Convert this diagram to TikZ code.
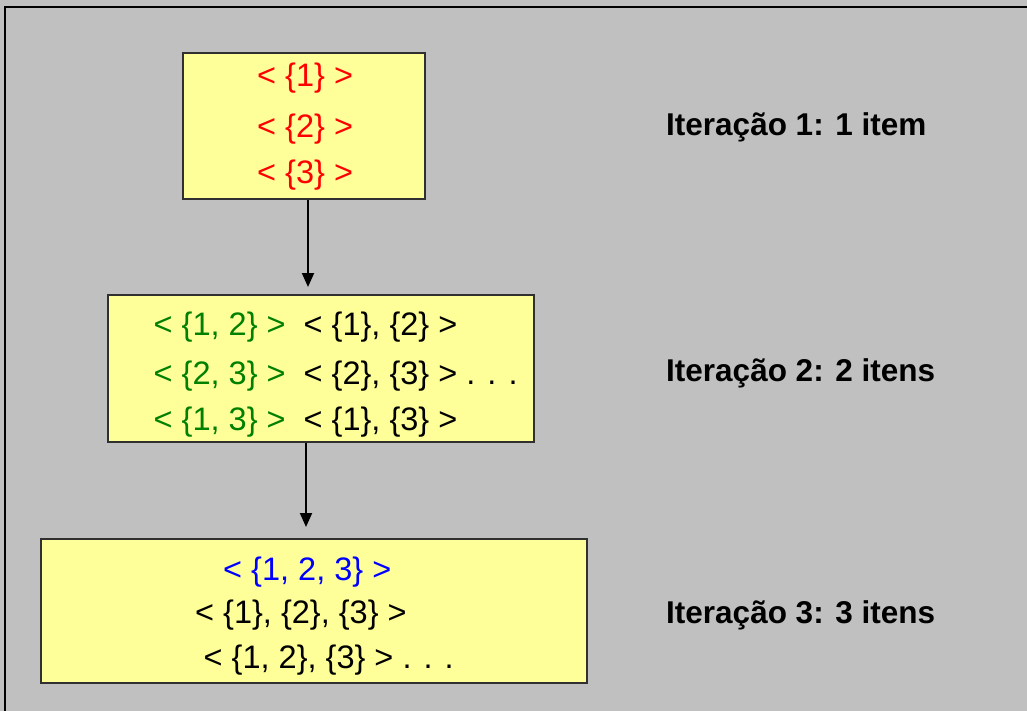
\documentclass[tikz,border=0pt]{standalone}
\usepackage{fontspec}
\setmainfont{Liberation Sans}
\usetikzlibrary{arrows.meta}
\definecolor{panelgray}{HTML}{C0C0C0}
\definecolor{boxyellow}{HTML}{FFFF99}
\definecolor{boxedge}{HTML}{303030}
\definecolor{setred}{HTML}{FF0000}
\definecolor{setgreen}{HTML}{008000}
\definecolor{setblue}{HTML}{0000FF}
\tikzset{
  itembox/.style={draw=boxedge, fill=boxyellow, line width=2pt, inner sep=0pt},
  seq/.style={inner sep=0pt, anchor=base west, font=\fontsize{32.5}{32.5}\selectfont},
  iterlabel/.style={inner sep=0pt, anchor=base west, font=\fontsize{31.5}{31.5}\selectfont\bfseries},
  flow/.style={line width=2pt, -{Triangle[width=12pt,length=14pt]}}
}
\begin{document}
\begin{tikzpicture}[x=1pt, y=-1pt]
  % page and background
  \useasboundingbox (0,0) rectangle (1027,711);
  \fill[panelgray] (0,0) rectangle (1027,711);
  \draw[black, line width=2.5pt] (5,711) -- (5,7) -- (1027,7);

  % candidate boxes
  \node[itembox, minimum width=242pt, minimum height=146pt] (b1) at (304,126.3) {};
  \node[itembox, minimum width=426pt, minimum height=147pt] (b2) at (321,368.5) {};
  \node[itembox, minimum width=546pt, minimum height=144pt] (b3) at (314,610.5) {};

  % iteration 1: one item
  \node[seq, text=setred] (s11) at (257,87)  {< \{1\} >};
  \node[seq, text=setred] (s12) at (257,138) {< \{2\} >};
  \node[seq, text=setred] (s13) at (257,184) {< \{3\} >};

  % iteration 2: two items
  \node[seq, text=setgreen] (s21a) at (153.5,335) {< \{1, 2\} >};
  \node[seq, text=setgreen] (s22a) at (153.5,384) {< \{2, 3\} >};
  \node[seq, text=setgreen] (s23a) at (153.5,430) {< \{1, 3\} >};
  \node[seq] (s21b) at (303.5,335) {< \{1\}, \{2\} >};
  \node[seq] (s22b) at (303.5,384) {< \{2\}, \{3\} > . . .};
  \node[seq] (s23b) at (303.5,430) {< \{1\}, \{3\} >};

  % iteration 3: three items
  \node[seq, text=setblue] (s31) at (223,580) {< \{1, 2, 3\} >};
  \node[seq] (s32) at (195,623) {< \{1\}, \{2\}, \{3\} >};
  \node[seq] (s33) at (203.5,668) {< \{1, 2\}, \{3\} > . . .};

  % iteration labels
  \node[iterlabel] (l1) at (666,136) {Iteração 1: 1 item};
  \node[iterlabel] (l2) at (666,381) {Iteração 2: 2 itens};
  \node[iterlabel] (l3) at (666,623) {Iteração 3: 3 itens};

  % arrows between iterations
  \coordinate (t1) at (308,287);
  \coordinate (t2) at (306,527);
  \draw[flow] (b1.south -| t1) -- (t1);
  \draw[flow] (b2.south -| t2) -- (t2);
\end{tikzpicture}
\end{document}
